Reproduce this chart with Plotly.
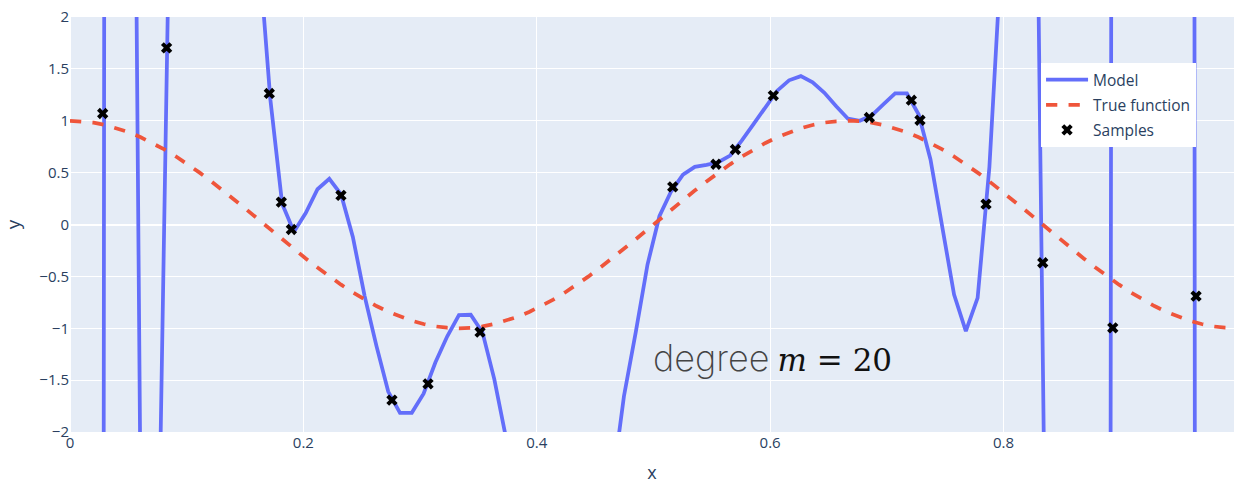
import plotly.graph_objects as go

# Evaluation grid (100 points on [0, 1])
x_grid = [
    0.0, 0.0101, 0.0202, 0.0303, 0.0404, 0.0505, 0.0606, 0.0707, 0.0808, 0.0909,
    0.1010, 0.1111, 0.1212, 0.1313, 0.1414, 0.1515, 0.1616, 0.1717, 0.1818, 0.1919,
    0.2020, 0.2121, 0.2222, 0.2323, 0.2424, 0.2525, 0.2626, 0.2727, 0.2828, 0.2929,
    0.3030, 0.3131, 0.3232, 0.3333, 0.3434, 0.3535, 0.3636, 0.3737, 0.3838, 0.3939,
    0.4040, 0.4141, 0.4242, 0.4343, 0.4444, 0.4545, 0.4646, 0.4747, 0.4848, 0.4949,
    0.5051, 0.5152, 0.5253, 0.5354, 0.5455, 0.5556, 0.5657, 0.5758, 0.5859, 0.5960,
    0.6061, 0.6162, 0.6263, 0.6364, 0.6465, 0.6566, 0.6667, 0.6768, 0.6869, 0.6970,
    0.7071, 0.7172, 0.7273, 0.7374, 0.7475, 0.7576, 0.7677, 0.7778, 0.7879, 0.7980,
    0.8081, 0.8182, 0.8283, 0.8384, 0.8485, 0.8586, 0.8687, 0.8788, 0.8889, 0.8990,
    0.9091, 0.9192, 0.9293, 0.9394, 0.9495, 0.9596, 0.9697, 0.9798, 0.9899, 1.0,
]

# Degree-20 polynomial model evaluated on the grid
model_y = [
    -3000, -900, -88, 12, 25, 11.4, -2.85, -6.7, 0.06, 6.8,
    30, 60, 75, 65, 40, 15, 2.67, 1.205, 0.20, -0.07,
    0.11, 0.34, 0.44, 0.29, -0.12, -0.69, -1.17, -1.61, -1.815, -1.815,
    -1.63, -1.33, -1.08, -0.874, -0.87, -1.04, -1.49, -2.06, -2.9, -3.9,
    -4.7, -5.2, -5.3, -5.0, -4.4, -3.6, -2.52, -1.655, -1.04, -0.386,
    0.08, 0.32, 0.48, 0.556, 0.575, 0.60, 0.665, 0.81, 0.97, 1.13,
    1.29, 1.39, 1.43, 1.37, 1.27, 1.14, 1.02, 1.0, 1.05, 1.157,
    1.263, 1.263, 1.06, 0.627, -0.05, -0.675, -1.028, -0.707, 0.556, 2.47,
    4.6, 5.0, 3.7, -5.7, -12, -22, -30, -32, -25, 56,
    120, 160, 170, 150, 110, 60, -85, -300, -700, -1500,
]

# True function on the same grid
true_y = [
    1.000, 0.995, 0.982, 0.959, 0.928, 0.889, 0.841, 0.786, 0.724, 0.655,
    0.580, 0.500, 0.415, 0.327, 0.236, 0.142, 0.048, -0.048, -0.142, -0.236,
    -0.327, -0.415, -0.500, -0.580, -0.655, -0.724, -0.786, -0.841, -0.889, -0.928,
    -0.959, -0.982, -0.995, -1.000, -0.995, -0.982, -0.959, -0.928, -0.889, -0.841,
    -0.786, -0.724, -0.655, -0.580, -0.500, -0.415, -0.327, -0.236, -0.142, -0.048,
    0.048, 0.142, 0.236, 0.327, 0.415, 0.500, 0.580, 0.655, 0.724, 0.786,
    0.841, 0.889, 0.928, 0.959, 0.982, 0.995, 1.000, 0.995, 0.982, 0.959,
    0.928, 0.889, 0.841, 0.786, 0.724, 0.655, 0.580, 0.500, 0.415, 0.327,
    0.236, 0.142, 0.048, -0.048, -0.142, -0.236, -0.327, -0.415, -0.500, -0.580,
    -0.655, -0.724, -0.786, -0.841, -0.889, -0.928, -0.959, -0.982, -0.995, -1.000,
]

# Noisy training samples
sample_x = [0.0280, 0.0828, 0.1708, 0.1811, 0.1897, 0.2322, 0.2759, 0.3068, 0.3514, 0.5165,
            0.5536, 0.5702, 0.6027, 0.6850, 0.7210, 0.7284, 0.7850, 0.8336, 0.8936, 0.9650]
sample_y = [1.070, 1.703, 1.263, 0.215, -0.048, 0.280, -1.693, -1.536, -1.038, 0.363,
            0.581, 0.723, 1.243, 1.031, 1.198, 1.005, 0.196, -0.369, -0.996, -0.691]

fig = go.Figure()
fig.add_trace(go.Scatter(x=x_grid, y=model_y, mode="lines", name="Model", legendgroup="a",
                         line=dict(color="#636EFA", width=3.75)))
fig.add_trace(go.Scatter(x=x_grid, y=true_y, mode="lines", name="True function", legendgroup="b",
                         line=dict(color="#EF553B", width=3.75, dash="dash")))
fig.add_trace(go.Scatter(x=sample_x, y=sample_y, mode="markers", name="Samples", legendgroup="c",
                         marker=dict(symbol="x", size=10, color="black")))

fig.add_annotation(
    x=0.6016, y=-1.29, xref="x", yref="y", showarrow=False,
    xanchor="center", yanchor="middle",
    text=('<span style="font-family:Inter;font-weight:200;font-size:36px;fill:#444">degree</span> '
          '<span style="font-family:DejaVu Serif;font-style:italic">m</span>'
          '<span style="font-family:DejaVu Serif"> = 20</span>'),
    font=dict(size=31, color="#111"),
)

fig.update_layout(
    template="plotly",
    width=1234, height=485,
    margin=dict(l=70, r=0, t=17, b=53),
    font=dict(family="Open Sans", size=15, color="#2a3f5f"),
    xaxis=dict(range=[0, 0.9975], dtick=0.2, title=dict(text="x", font=dict(size=18))),
    yaxis=dict(range=[-2, 2], dtick=0.5, title=dict(text="y", font=dict(size=19))),
    legend=dict(x=0.9674, xanchor="right", y=0.889, yanchor="top",
                bgcolor="white", font=dict(size=15.5), tracegroupgap=2, itemwidth=42),
    showlegend=True,
)

fig.write_html("out.html")
